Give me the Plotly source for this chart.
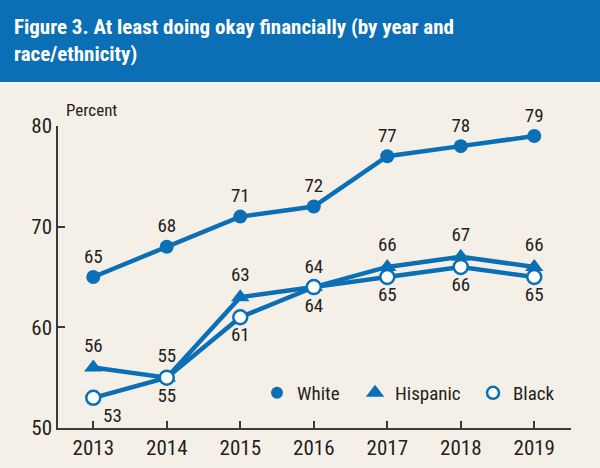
import plotly.graph_objects as go

years = [2013, 2014, 2015, 2016, 2017, 2018, 2019]
white = [65, 68, 71, 72, 77, 78, 79]
hispanic = [56, 55, 63, 64, 66, 67, 66]
black = [53, 55, 61, 64, 65, 66, 65]

white_pos = ["top center"] * 7
hispanic_pos = ["top center", "top center", "top center", "bottom center", "top center", "top center", "top center"]
black_pos = ["bottom right", "bottom center", "bottom center", "top center", "bottom center", "bottom center", "bottom center"]

BLUE = "#0b6fb6"
BG = "#f5f0e7"
FONT = "Liberation Sans Narrow, Roboto Condensed, Arial Narrow, Liberation Sans, sans-serif"
TXT = "#231f20"

fig = go.Figure()

fig.add_trace(go.Scatter(
    x=years, y=white, mode="lines+markers+text", text=[str(v) for v in white],
    textposition=white_pos, textfont=dict(family=FONT, size=19, color=TXT),
    line=dict(color=BLUE, width=4.5), marker=dict(symbol="circle", size=14, color=BLUE),
    showlegend=False, cliponaxis=False))
fig.add_trace(go.Scatter(
    x=years, y=hispanic, mode="lines+markers+text", text=[str(v) for v in hispanic],
    textposition=hispanic_pos, textfont=dict(family=FONT, size=19, color=TXT),
    line=dict(color=BLUE, width=4.5), marker=dict(symbol="triangle-up", size=16, color=BLUE),
    showlegend=False, cliponaxis=False))
fig.add_trace(go.Scatter(
    x=years, y=black, mode="lines+markers+text", text=[str(v) for v in black],
    textposition=black_pos, textfont=dict(family=FONT, size=19, color=TXT),
    line=dict(color=BLUE, width=4.5),
    marker=dict(symbol="circle", size=14, color="white", line=dict(color=BLUE, width=2.5)),
    showlegend=False, cliponaxis=False))

# legend-only traces, each in its own legend box
fig.add_trace(go.Scatter(x=[None], y=[None], mode="markers", name="White", legend="legend",
                         marker=dict(symbol="circle", size=12, color=BLUE)))
fig.add_trace(go.Scatter(x=[None], y=[None], mode="markers", name="Hispanic", legend="legend2",
                         marker=dict(symbol="triangle-up", size=17, color=BLUE)))
fig.add_trace(go.Scatter(x=[None], y=[None], mode="markers", name="Black", legend="legend3",
                         marker=dict(symbol="circle", size=12, color="white", line=dict(color=BLUE, width=2.5))))

L, R, T, B = 58, 29, 126, 40
pw, ph = 600 - L - R, 468 - T - B


def leg(px):
    return dict(orientation="h", x=(px - L) / pw, y=(428 - 393) / ph, xanchor="left", yanchor="middle",
                bgcolor="rgba(0,0,0,0)", font=dict(family=FONT, size=19, color=TXT), itemwidth=30)


fig.update_layout(
    width=600, height=468,
    margin=dict(l=L, r=R, t=T, b=B, autoexpand=False),
    paper_bgcolor=BG, plot_bgcolor=BG,
    font=dict(family=FONT, color=TXT),
    xaxis=dict(range=[2012.52, 2019.5], tickvals=years, ticktext=[str(y) for y in years],
               showgrid=False, zeroline=False, showline=True, linecolor="#3a3a3a", linewidth=1.5,
               ticks="inside", ticklen=7, tickcolor="#3a3a3a", tickwidth=1.5, automargin=False,
               tickfont=dict(family=FONT, size=21, color=TXT), fixedrange=True),
    yaxis=dict(range=[50, 80], tickvals=[50, 60, 70, 80],
               showgrid=False, zeroline=False, showline=True, linecolor="#3a3a3a", linewidth=1.5,
               ticks="inside", ticklen=7, tickcolor="#3a3a3a", tickwidth=1.5, automargin=False,
               tickfont=dict(family=FONT, size=21, color=TXT), fixedrange=True),
    legend=leg(257), legend2=leg(355), legend3=leg(473),
    shapes=[dict(type="rect", xref="paper", yref="paper",
                 x0=-L / pw, x1=1 + R / pw, y0=1 + (T - 82) / ph, y1=1 + T / ph,
                 fillcolor=BLUE, line=dict(width=0), layer="below"),
            dict(type="rect", xref="paper", yref="paper",
                 x0=-L / pw, x1=1 + R / pw, y0=1 + (T - 84) / ph, y1=1 + (T - 82) / ph,
                 fillcolor="#fbf8f2", line=dict(width=0), layer="below")],
    annotations=[
        dict(text="<b>Figure 3. At least doing okay financially (by year and<br>race/ethnicity)</b>",
             xref="paper", yref="paper", x=(12 - L) / pw, y=1 + (T - 13) / ph,
             xanchor="left", yanchor="top", align="left", showarrow=False,
             font=dict(family=FONT, size=21, color="white")),
        dict(text="Percent", xref="paper", yref="paper", x=(64 - L) / pw, y=1 + (T - 110) / ph,
             xanchor="left", yanchor="middle", showarrow=False,
             font=dict(family=FONT, size=17, color=TXT)),
    ],
)

fig.write_html("out.html", config=dict(displayModeBar=False),
               post_script="document.body.style.margin='0';document.body.style.padding='0';")
